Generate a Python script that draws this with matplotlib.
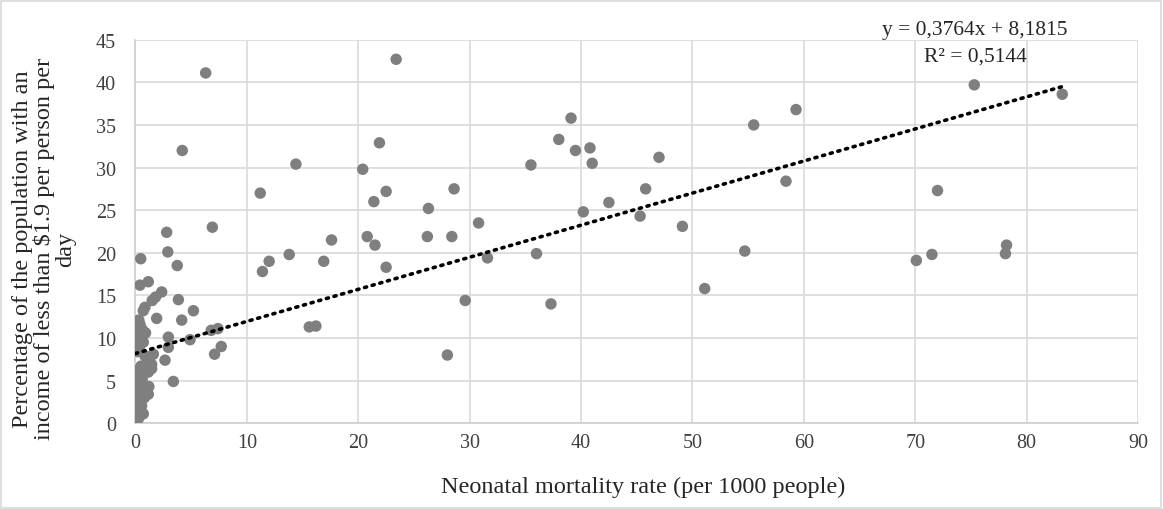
import matplotlib
matplotlib.use("Agg")
import matplotlib.pyplot as plt
import numpy as np
from matplotlib.patches import Rectangle

# Data
mortality = [
    6.3, 4.2, 14.4, 11.2, 2.8, 6.9, 20.4, 17.6, 2.9,
    23.4, 39.1, 38.0, 39.5, 40.8, 41.0, 35.5, 21.9, 47.0, 22.5, 21.4,
    28.6, 26.3, 45.8, 42.5, 40.2, 45.3, 30.8, 49.1, 20.8, 21.5,
    26.2, 28.4, 22.5, 31.6, 36.0, 51.1, 29.6, 37.3, 28.0,
    75.3, 83.2, 59.3, 55.5, 58.4, 72.0, 54.7, 70.1, 71.5, 78.2, 78.1,
    11.4, 12.0, 13.8, 16.9, 15.6, 16.2,
    5.2, 4.15, 4.9, 6.8, 7.4, 7.7, 7.1,
    0.47, 3.75, 0.4, 1.15, 2.35, 1.8, 1.5, 3.85, 0.85, 1.9, 2.95, 2.95, 2.65, 3.4,
    0.7, 0.4, 0.25, 0.6, 0.4, 0.4, 0.85, 1.6, 1.45, 1.0, 0.25, 0.85, 0.1, 1.0,
    0.1, 0.55, 0.0, 0.7, 0.25, 0.3, 0.2, 0.6, 0.5, 1.2, 0.2, 0.7, 0.9, 0.3,
    0.1, 0.4, 1.2, 0.15, 0.8, 1.45, 1.15, 1.15,
]
poverty = [
    41.1, 32.0, 30.4, 27.0, 22.4, 23.0, 29.8, 21.5, 20.1,
    42.7, 35.8, 33.3, 32.0, 32.3, 30.5, 30.3, 32.9, 31.2, 27.2, 26.0,
    27.5, 25.2, 27.5, 25.9, 24.8, 24.3, 23.5, 23.1, 21.9, 20.9,
    21.9, 21.9, 18.3, 19.4, 19.9, 15.8, 14.4, 14.0, 8.0,
    39.7, 38.6, 36.8, 35.0, 28.4, 27.3, 20.2, 19.1, 19.8, 20.9, 19.9,
    17.8, 19.0, 19.8, 19.0, 11.3, 11.4,
    13.2, 12.1, 9.8, 10.9, 11.1, 9.0, 8.1,
    19.3, 18.5, 16.2, 16.6, 15.4, 14.8, 14.4, 14.5, 13.6, 12.3, 10.1, 8.9, 7.4, 4.9,
    13.2, 11.6, 10.7, 11.0, 9.9, 9.1, 7.9, 8.1, 6.9, 6.2, 5.6, 4.4, 4.0, 3.7,
    2.8, 2.05, 1.3, 1.1, 0.5, 3.3, 4.8, 5.2, 6.7, 7.5, 8.4, 9.5, 10.6, 12.1,
    1.9, 0.9, 4.3, 6.2, 3.0, 6.4, 6.0, 3.4,
]
slope, intercept = 0.3764, 8.1815
eq_text = "y = 0,3764x + 8,1815"
r2_text = "R² = 0,5144"
x_ticks = list(range(0, 91, 10))
y_ticks = list(range(0, 46, 5))
x_label = "Neonatal mortality rate (per 1000 people)"
y_label = "Percentage of the population with an\nincome of less than \\$1.9 per person per\nday"

plt.rcParams['font.family'] = ['Liberation Serif', 'DejaVu Serif']

fig = plt.figure(figsize=(11.63, 5.10), dpi=100)
fig.patches.append(Rectangle((0.001, 0.002), 0.997, 0.995, transform=fig.transFigure,
                             fill=False, edgecolor='#d9d9d9', linewidth=1.2))
ax = fig.add_axes([0.1165, 0.1682, 0.862, 0.752])

ax.scatter(mortality, poverty, s=68, color='#7f7f7f', edgecolors='none', zorder=3)

xt = np.array([0.0, max(mortality)])
ax.plot(xt, slope * xt + intercept, color='black', linestyle=(0, (0.6, 1.6)),
        linewidth=2.6, dash_capstyle='round', zorder=4)

ax.set_xlim(0, 90)
ax.set_ylim(0, 45)
ax.set_xticks(x_ticks)
ax.set_yticks(y_ticks)
ax.grid(True, color='#d9d9d9', linewidth=1.2, zorder=0)
ax.set_axisbelow(True)
for s in ['top', 'right']:
    ax.spines[s].set_visible(False)
for s in ['left', 'bottom']:
    ax.spines[s].set_color('#d0d0d0')
    ax.spines[s].set_linewidth(1.2)
ax.tick_params(length=0, labelsize=14.5, colors='#404040')
ax.tick_params(axis='x', pad=7)
ax.tick_params(axis='y', pad=14)

ax.text(0.506, -0.164, x_label, transform=ax.transAxes, ha='center', va='center',
        fontsize=17.5, color='#262626')
ax.text(-0.091, 0.456, y_label, transform=ax.transAxes, ha='center', va='center',
        rotation=90, fontsize=17.5, color='#262626', linespacing=1.0, multialignment='center')

fig.text(975 / 1163, 1 - 31 / 510, eq_text, ha='center', va='center', fontsize=15.5, color='#262626')
fig.text(975 / 1163, 1 - 57 / 510, r2_text, ha='center', va='center', fontsize=15.5, color='#262626')

fig.savefig("out.png", dpi=100)
